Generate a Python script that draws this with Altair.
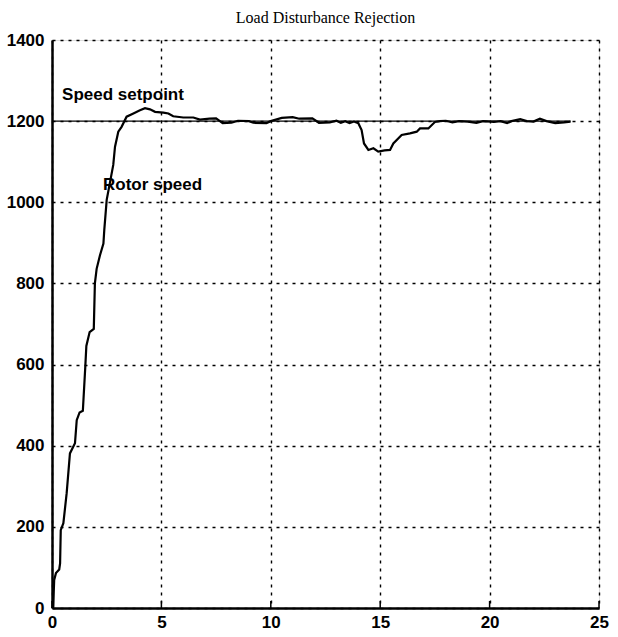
import altair as alt
import pandas as pd

# Rotor speed trace (time s, speed rpm)
t_vals = [0, 0.06, 0.08, 0.1, 0.18, 0.33, 0.37, 0.4, 0.52, 0.67, 0.82, 1.05, 1.13, 1.26, 1.41,
          1.52, 1.57, 1.72, 1.91, 1.96, 2.04, 2.19, 2.35, 2.39, 2.5, 2.8, 2.88, 3.03, 3.18, 3.41,
          3.72, 4.02, 4.25, 4.48, 4.71, 5.09, 5.32, 5.54, 6.0, 6.46, 6.76, 7.2, 7.5, 7.8, 8.2,
          8.5, 9.0, 9.2, 9.8, 10.0, 10.5, 11.0, 11.3, 11.9, 12.2, 12.7, 13.0, 13.2, 13.4, 13.6,
          13.8, 14.0, 14.15, 14.26, 14.46, 14.69, 14.91, 15.2, 15.45, 15.6, 15.98, 16.36, 16.67,
          16.82, 17.2, 17.5, 17.73, 18.0, 18.3, 18.6, 19.0, 19.4, 19.7, 20.2, 20.5, 20.8, 21.0,
          21.4, 21.7, 22.0, 22.3, 22.6, 23.0, 23.4, 23.7]
speed_vals = [0, 3, 40, 69, 86, 95, 110, 192, 209, 283, 381, 406, 463, 482, 486,
              593, 646, 680, 688, 800, 836, 869, 898, 932, 1006, 1092, 1137, 1174, 1186, 1211,
              1219, 1227, 1232, 1229, 1223, 1221, 1219, 1212, 1209, 1209, 1204, 1206, 1207, 1195, 1196,
              1201, 1200, 1196, 1195, 1200, 1208, 1210, 1206, 1207, 1196, 1197, 1201, 1196, 1200, 1195,
              1199, 1195, 1178, 1145, 1129, 1133, 1125, 1128, 1129, 1145, 1166, 1170, 1174,
              1182, 1182, 1198, 1200, 1201, 1197, 1200, 1199, 1196, 1200, 1198, 1200, 1195, 1200,
              1205, 1200, 1199, 1206, 1200, 1195, 1197, 1199]

setpoint_t = [0, 23.7]
setpoint_v = [1200, 1200]

x_ticks = [0, 5, 10, 15, 20, 25]
y_ticks = [0, 200, 400, 600, 800, 1000, 1200, 1400]

ann_text = ["Speed setpoint", "Rotor speed"]
ann_t = [0.46, 2.33]
ann_v = [1252, 1030]

W, H = 547, 568
FONT = "'Liberation Sans Narrow', 'Liberation Sans', Arial, sans-serif"

speed_df = pd.DataFrame({"t": t_vals, "speed": speed_vals})
sp_df = pd.DataFrame({"t": setpoint_t, "speed": setpoint_v})
ann_df = pd.DataFrame({"label": ann_text, "t": ann_t, "speed": ann_v})
tick_df = pd.DataFrame({"t": x_ticks})

xs = alt.Scale(domain=[0, 25], nice=False, zero=False)
ys = alt.Scale(domain=[0, 1400], nice=False)

x_axis = alt.Axis(values=x_ticks, format="d", title=None, grid=True, gridDash=[3, 5], gridColor="black",
                  gridWidth=1.4, gridOpacity=1, domain=True, domainColor="black", domainWidth=2.5,
                  ticks=False, labelFont=FONT, labelFontWeight="bold", labelFontSize=17,
                  labelColor="black", labelPadding=6, labelFlush=False)
y_axis = alt.Axis(values=y_ticks, format="d", title=None, grid=True, gridDash=[3, 5], gridColor="black",
                  gridWidth=1.4, gridOpacity=1, domain=True, domainColor="black", domainWidth=2.5,
                  ticks=False, labelFont=FONT, labelFontWeight="bold", labelFontSize=17,
                  labelColor="black", labelPadding=8, labelFlush=False)

base_axes = alt.Chart(tick_df).mark_rule(color="black", strokeWidth=1.5).encode(
    x=alt.X("t:Q", scale=xs, axis=x_axis),
    y=alt.value(H),
    y2=alt.value(H - 7),
)

setpoint = alt.Chart(sp_df).mark_line(color="black", strokeWidth=1.3).encode(
    x=alt.X("t:Q", scale=xs),
    y=alt.Y("speed:Q", scale=ys, axis=y_axis),
)

rotor = alt.Chart(speed_df).mark_line(color="black", strokeWidth=2.2).encode(
    x=alt.X("t:Q", scale=xs),
    y=alt.Y("speed:Q", scale=ys),
)

labels = alt.Chart(ann_df).mark_text(
    align="left", baseline="alphabetic", font=FONT, fontWeight="bold", fontSize=17,
    color="black",
).encode(
    x=alt.X("t:Q", scale=xs),
    y=alt.Y("speed:Q", scale=ys),
    text="label:N",
)

chart = alt.layer(base_axes, setpoint, rotor, labels).properties(
    width=W, height=H,
    title=alt.TitleParams("Load Disturbance Rejection", font="Liberation Serif", fontSize=16,
                          fontWeight="normal", color="black", anchor="middle", offset=5),
    autosize=alt.AutoSizeParams(type="none"),
    padding={"left": 52, "top": 40, "right": 19, "bottom": 29},
).configure_view(strokeWidth=0).configure(background="white")

chart.save("out.html", embed_options={"renderer": "svg", "actions": False})
